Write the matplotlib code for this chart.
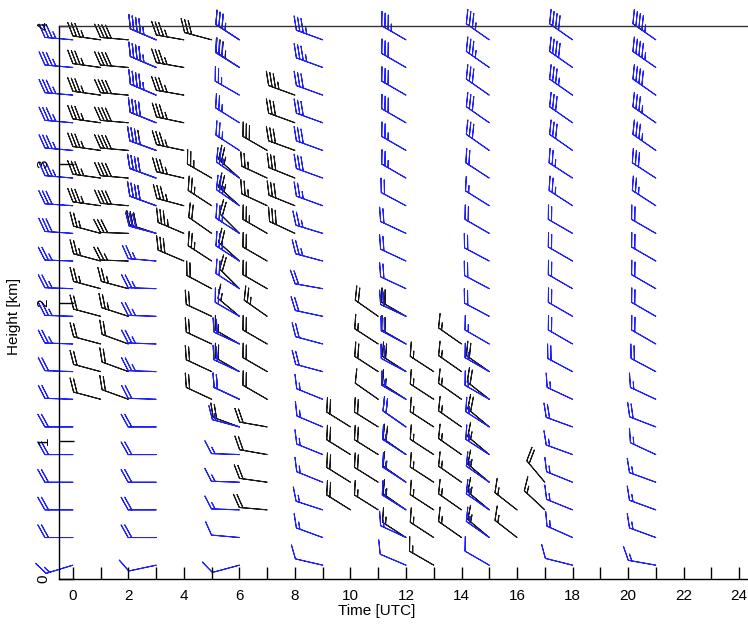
import numpy as np
import matplotlib.pyplot as plt

plt.rcParams['font.family'] = ['Liberation Sans', 'DejaVu Sans']

# Datos ---------------------------------------------------------------------------------------------------
# niveles de altura [km]
heights = [0.1, 0.3, 0.5, 0.7, 0.9, 1.1, 1.3, 1.5, 1.7, 1.9,
           2.1, 2.3, 2.5, 2.7, 2.9, 3.1, 3.3, 3.5, 3.7, 3.9]

# sondeos (azul), cada 3 h, todos los niveles, de abajo hacia arriba
sonde_times = [0, 3, 6, 9, 12, 15, 18, 21]
sonde_speed = [
    [15, 20, 20, 20, 20, 20, 20, 20, 25, 25, 25, 25, 30, 30, 35, 35, 35, 35, 35, 35],
    [10, 20, 20, 20, 20, 20, 20, 25, 25, 25, 25, 25, 30, 40, 40, 35, 40, 45, 45, 45],
    [10, 10, 15, 15, 15, 15, 20, 20, 20, 20, 20, 25, 25, 25, 25, 25, 25, 25, 30, 35],
    [10, 15, 15, 15, 15, 15, 15, 20, 20, 20, 20, 25, 25, 25, 30, 30, 30, 30, 35, 35],
    [10, 15, 15, 15, 15, 20, 15, 20, 20, 20, 20, 20, 20, 20, 25, 25, 30, 30, 30, 35],
    [10, 15, 15, 15, 15, 15, 15, 15, 15, 20, 20, 20, 20, 15, 20, 30, 30, 30, 35, 35],
    [10, 15, 15, 15, 15, 20, 15, 20, 20, 20, 20, 20, 20, 25, 25, 30, 30, 35, 40, 40],
    [15, 15, 15, 15, 15, 20, 15, 20, 20, 20, 20, 20, 20, 25, 30, 35, 35, 40, 45, 45],
]
sonde_dir = [
    [253, 270, 270, 270, 270, 270, 272, 272, 272, 272, 272, 272, 274, 274, 275, 275, 275, 275, 275, 275],
    [258, 270, 270, 270, 270, 270, 272, 272, 272, 272, 272, 275, 285, 290, 290, 290, 292, 293, 293, 293],
    [255, 275, 272, 272, 272, 285, 295, 295, 295, 300, 303, 303, 303, 305, 305, 303, 302, 300, 302, 303],
    [283, 290, 288, 292, 292, 293, 292, 285, 285, 282, 280, 285, 287, 290, 290, 290, 290, 290, 290, 290],
    [293, 295, 302, 303, 303, 305, 300, 298, 298, 295, 295, 295, 295, 298, 300, 300, 300, 300, 300, 300],
    [300, 305, 305, 305, 303, 303, 300, 300, 300, 298, 298, 298, 300, 302, 303, 305, 305, 305, 305, 305],
    [284, 294, 292, 292, 290, 290, 295, 298, 300, 300, 300, 300, 300, 303, 303, 305, 305, 305, 305, 305],
    [280, 290, 290, 290, 295, 291, 295, 298, 300, 300, 300, 300, 300, 303, 303, 305, 305, 305, 305, 305],
]

# lidar (negro), cada hora, solo niveles con dato
lidar_times = [1, 2, 3, 4, 5, 6, 7, 8, 10, 11, 12, 13, 14, 15, 16, 17]
lidar_levels = [
    [1.3, 1.5, 1.7, 1.9, 2.1, 2.3, 2.5, 2.7, 2.9, 3.1, 3.3, 3.5, 3.7, 3.9],
    [1.3, 1.5, 1.7, 1.9, 2.1, 2.3, 2.5, 2.7, 2.9, 3.1, 3.3, 3.5, 3.7, 3.9],
    [2.5, 2.7, 2.9, 3.1, 3.3, 3.5, 3.7, 3.9],
    [2.3, 2.5, 2.7, 2.9, 3.1, 3.3, 3.5, 3.7, 3.9],
    [1.3, 1.5, 1.7, 1.9, 2.1, 2.3, 2.5, 2.7, 2.9, 3.9],
    [1.1, 1.3, 1.5, 1.7, 1.9, 2.1, 2.3, 2.5, 2.7, 2.9, 3.7, 3.9],
    [0.5, 0.7, 0.9, 1.1, 1.3, 1.5, 1.7, 1.9, 2.1, 2.3, 2.5, 2.7, 2.9, 3.1],
    [2.5, 2.7, 2.9, 3.1, 3.3, 3.5],
    [0.5, 0.7, 0.9, 1.1],
    [0.5, 0.7, 0.9, 1.1, 1.3, 1.5, 1.7, 1.9],
    [0.3, 0.5, 0.7, 0.9, 1.1, 1.3, 1.5, 1.7, 1.9],
    [0.1, 0.3, 0.5, 0.7, 0.9, 1.1, 1.3, 1.5],
    [0.3, 0.5, 0.7, 0.9, 1.1, 1.3, 1.5, 1.7],
    [0.3, 0.5, 0.7, 0.9, 1.1, 1.3, 1.5],
    [0.3, 0.5],
    [0.5, 0.7],
]
lidar_speed = [
    [20, 20, 20, 20, 25, 25, 25, 35, 35, 35, 35, 35, 35, 35],
    [20, 20, 20, 25, 25, 25, 30, 40, 40, 40, 40, 40, 40, 40],
    [30, 40, 40, 40, 40, 45, 45, 45],
    [30, 35, 35, 35, 35, 35, 35, 35, 35],
    [20, 20, 20, 20, 20, 25, 20, 25, 25, 30],
    [20, 20, 20, 15, 15, 20, 20, 20, 25, 25, 35, 35],
    [20, 20, 20, 20, 20, 20, 20, 25, 20, 20, 25, 25, 25, 30],
    [30, 30, 30, 30, 30, 35],
    [20, 20, 20, 20],
    [15, 20, 20, 20, 10, 20, 15, 20],
    [15, 15, 15, 20, 20, 15, 20, 20, 20],
    [15, 15, 15, 15, 15, 15, 15, 15],
    [15, 15, 15, 15, 15, 15, 15, 15],
    [15, 15, 15, 15, 20, 20, 20],
    [15, 15],
    [15, 20],
]
lidar_dir = [
    [285, 285, 285, 285, 285, 285, 285, 278, 278, 278, 278, 278, 278, 278],
    [290, 290, 290, 288, 285, 272, 272, 275, 275, 275, 275, 275, 275, 275],
    [288, 290, 290, 290, 292, 293, 293, 293],
    [293, 293, 285, 283, 282, 282, 280, 280, 280],
    [295, 295, 295, 295, 298, 303, 305, 303, 300, 285],
    [290, 295, 300, 300, 310, 315, 312, 315, 312, 312, 303, 303],
    [275, 278, 280, 280, 300, 300, 300, 305, 300, 300, 300, 295, 295, 300],
    [295, 292, 292, 290, 290, 290],
    [302, 302, 302, 302],
    [302, 302, 302, 302, 305, 303, 303, 305],
    [303, 305, 305, 305, 305, 303, 303, 300, 300],
    [300, 303, 303, 303, 303, 303, 303, 303],
    [305, 305, 305, 305, 305, 305, 305, 305],
    [310, 310, 310, 310, 310, 308, 305],
    [308, 308],
    [313, 320],
]

xticks = list(range(0, 25, 2))
yticks = [0, 1, 2, 3, 4]


# Funciones -----------------------------------------------------------------------------------------------
def componentes(spd, dirdeg):
    # viento desde 'dirdeg' (convencion meteorologica) -> u, v
    r = np.deg2rad(np.asarray(dirdeg, dtype=float))
    spd = np.asarray(spd, dtype=float)
    return -spd * np.sin(r), -spd * np.cos(r)


def barbas(ax, x, y, spd, dirdeg, color):
    u, v = componentes(spd, dirdeg)
    ax.barbs(x, y, u, v, length=6.35, linewidth=0.75, color=color, clip_on=False,
             sizes=dict(height=0.45, width=0.5, spacing=0.13))


# Grafico -------------------------------------------------------------------------------------------------
fig = plt.figure(figsize=(7.48, 6.24), dpi=100)
ax = fig.add_axes([59 / 748, 45 / 624, 694 / 748, 553 / 624])
ax.set_xlim(-0.5, 24.5)
ax.set_ylim(0, 4)

# lidar
lx, ly, ls, ld = [], [], [], []
for t, lev, s, d in zip(lidar_times, lidar_levels, lidar_speed, lidar_dir):
    lx += [t] * len(lev)
    ly += lev
    ls += s
    ld += d
barbas(ax, lx, ly, ls, ld, '#1a1a1a')

# sondeos
sx, sy, ss, sd = [], [], [], []
for t, s, d in zip(sonde_times, sonde_speed, sonde_dir):
    sx += [t] * len(heights)
    sy += heights
    ss += s
    sd += d
barbas(ax, sx, sy, ss, sd, '#1f1fff')

ax.spines['right'].set_visible(False)
for s in ['left', 'bottom', 'top']:
    ax.spines[s].set_linewidth(1.0)
ax.spines['top'].set_color('#333333')

ax.set_xticks(xticks)
ax.set_xticks(range(0, 25), minor=True)
ax.tick_params(axis='x', which='both', direction='in', length=9, width=1, pad=7,
               labelsize=11, top=False)
ax.set_yticks(yticks)
ax.set_yticklabels([str(v) for v in yticks], rotation=90, va='center')
ax.tick_params(axis='y', direction='in', length=11, width=1, pad=6, labelsize=11)

ax.set_xlabel('Time [UTC]', fontsize=11)
ax.set_ylabel('Height [km]', fontsize=11)
ax.xaxis.set_label_coords(0.458, -0.045)
ax.yaxis.set_label_coords(-0.055, 0.474)

fig.savefig('out.png', dpi=100)
